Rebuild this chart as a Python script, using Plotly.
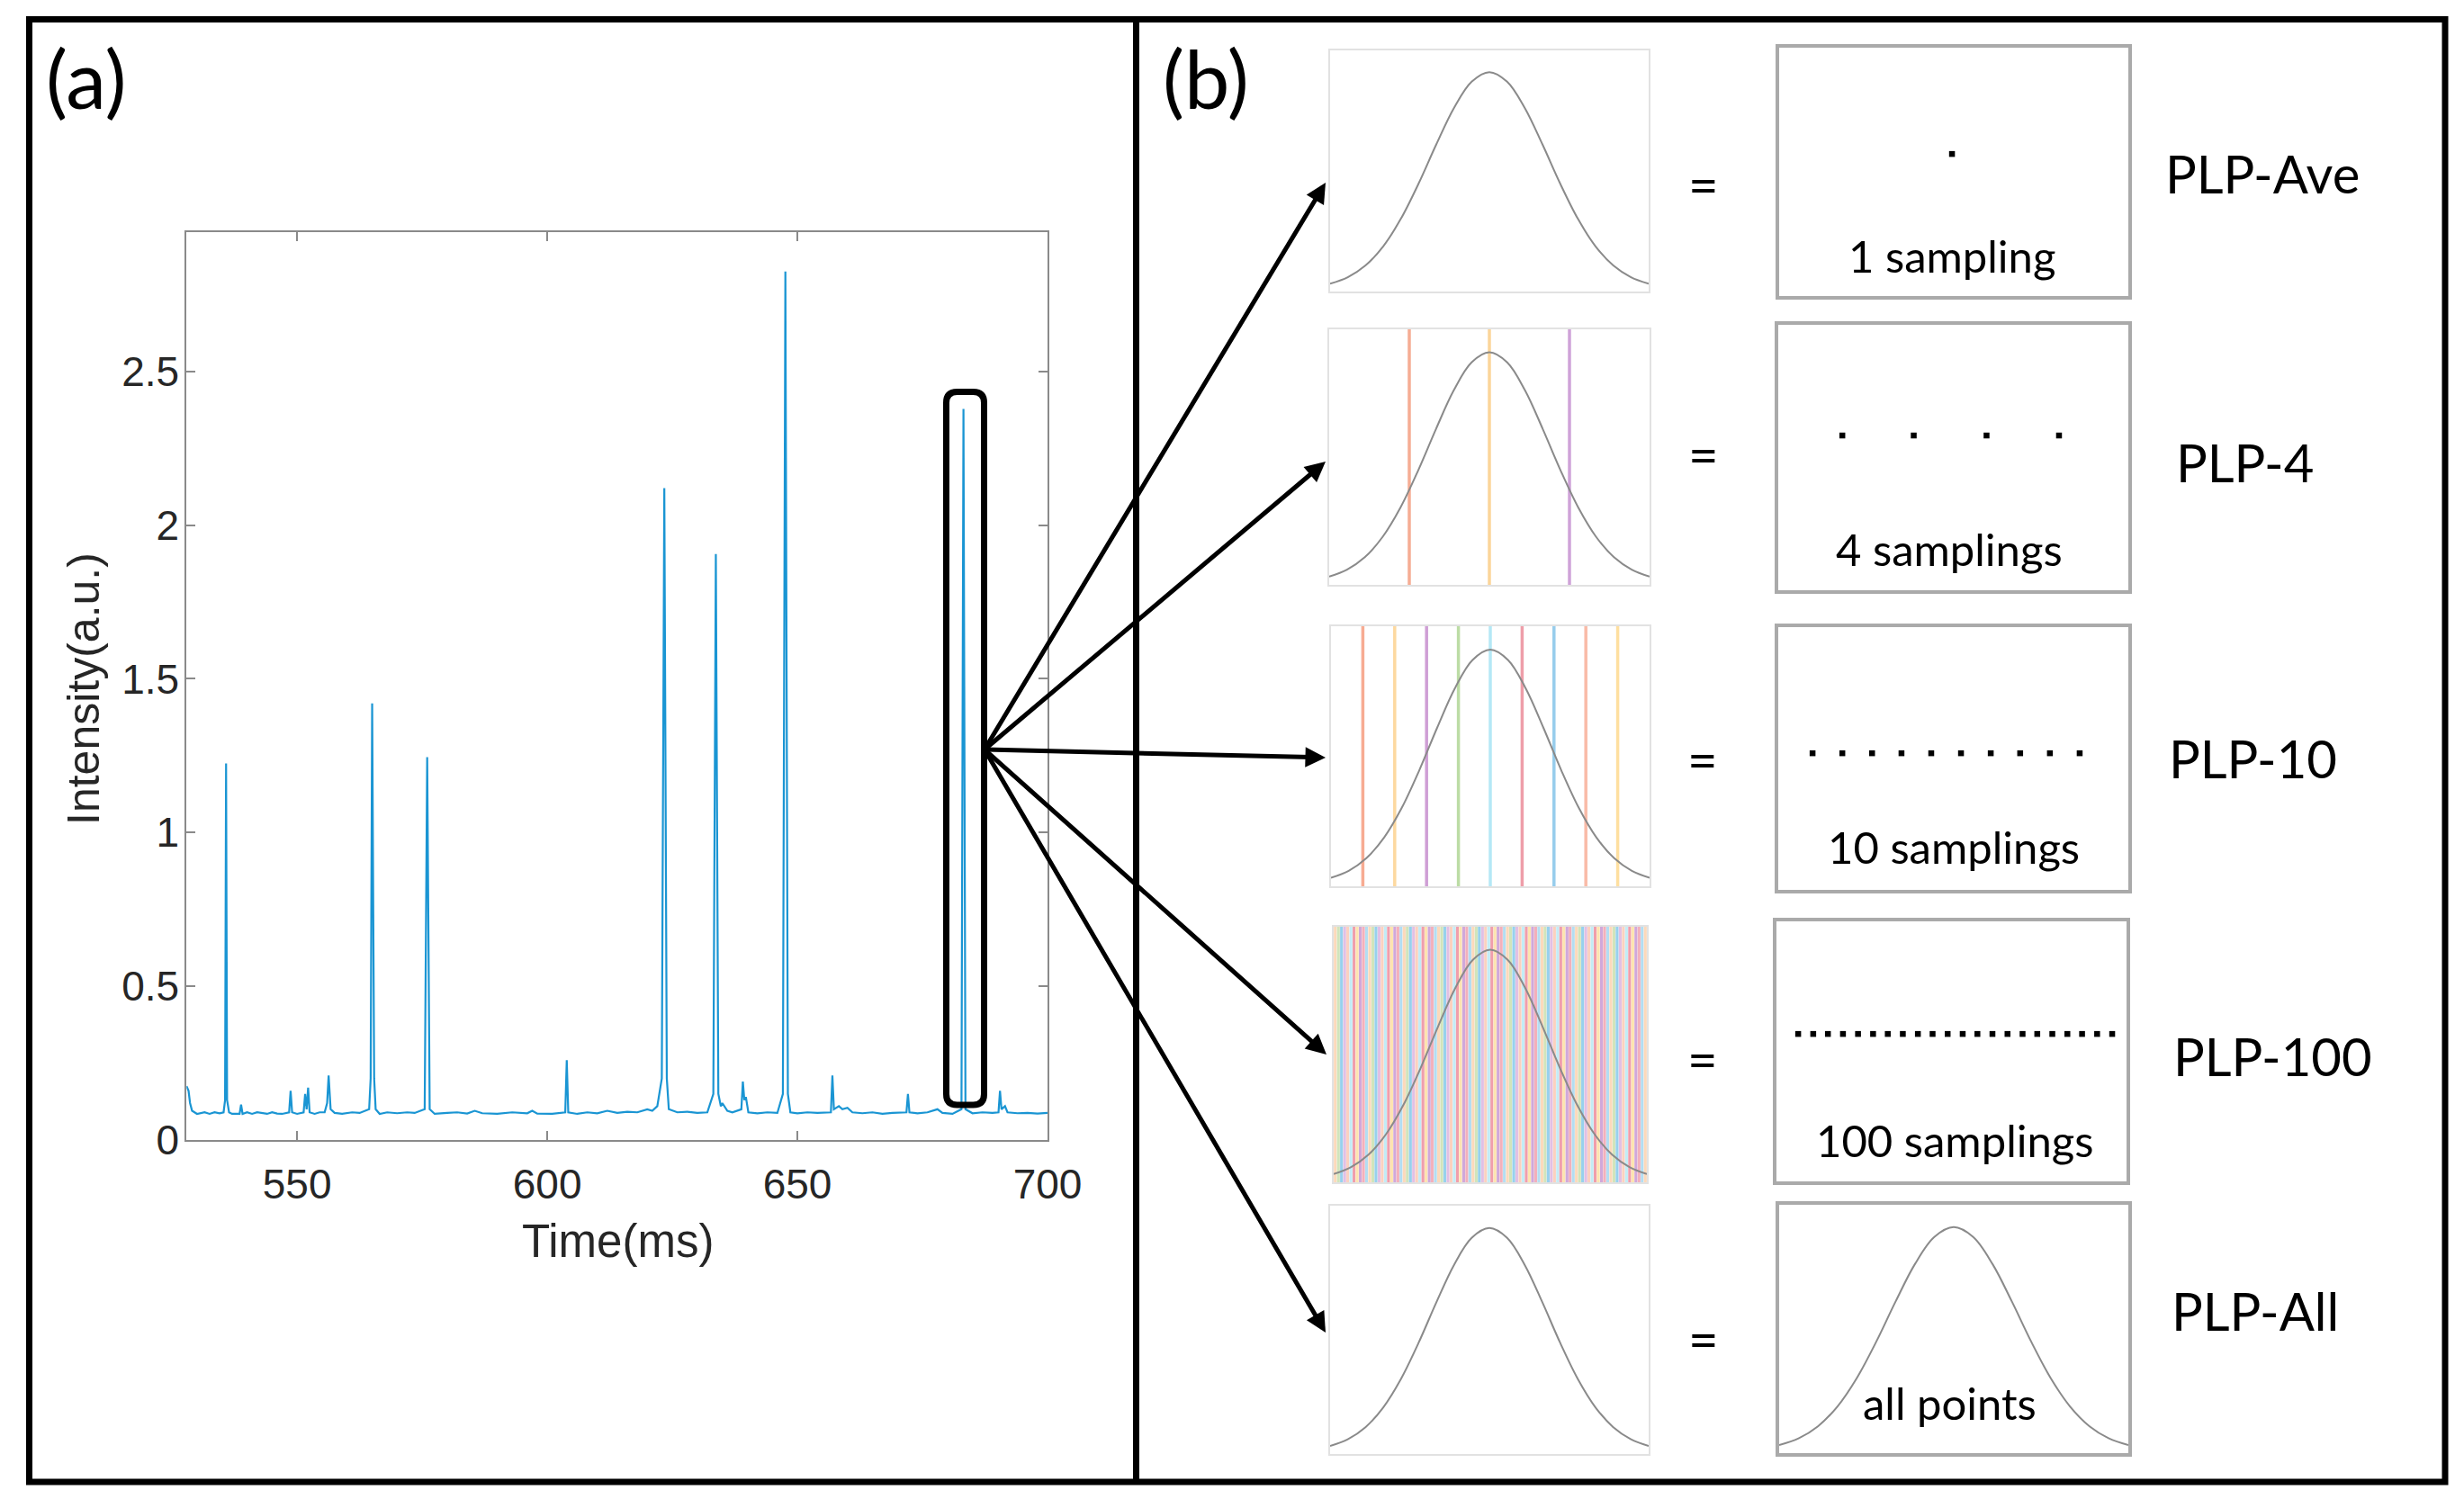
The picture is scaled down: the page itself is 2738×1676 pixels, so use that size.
import plotly.graph_objects as go

W, H = 2738, 1676


def px(x):
    return x / W


def py(y):
    return 1 - y / H


# ---------------- data: panel (a) ----------------
time_ms = [527.9, 528.3, 528.6, 529.0, 530.0, 531.5, 532.5, 533.5, 534.5, 535.3, 535.6, 535.8, 536.0, 536.4,
           537.0, 538.5, 538.8, 539.1, 540.0, 541.0, 542.0, 543.0, 544.0, 545.0, 546.0, 547.0, 548.4, 548.7,
           549.0, 550.0, 551.3, 551.6, 551.9, 552.2, 552.5, 553.5, 554.5, 555.5, 556.0, 556.3, 556.7, 557.5,
           559.0, 561.0, 562.5, 564.4, 564.7, 565.0, 565.4, 565.7, 566.5, 568.0, 570.0, 572.0, 573.5, 575.5,
           576.0, 576.5, 577.5, 580.0, 582.0, 584.0, 585.5, 587.0, 590.0, 593.0, 596.0, 597.0, 598.0, 601.0,
           603.6, 603.9, 604.2, 606.0, 608.0, 610.0, 612.0, 614.0, 616.0, 618.0, 620.0, 621.0, 622.0, 622.9,
           623.4, 623.9, 624.3, 626.0, 628.0, 630.0, 632.0, 633.2, 633.7, 634.2, 634.7, 635.0, 636.0, 637.0,
           638.8, 639.1, 639.4, 639.7, 640.2, 642.0, 644.0, 646.0, 647.1, 647.6, 648.1, 648.6, 650.0, 652.0,
           654.0, 656.7, 657.0, 657.3, 658.3, 659.0, 660.0, 661.0, 663.0, 665.0, 667.0, 669.0, 671.8, 672.1,
           672.4, 674.0, 676.0, 678.0, 679.0, 681.0, 682.8, 683.2, 683.6, 685.0, 687.0, 689.0, 690.2, 690.5,
           690.8, 691.5, 692.0, 694.0, 696.0, 698.0, 700.0]
intensity = [0.175, 0.16, 0.12, 0.095, 0.085, 0.09, 0.085, 0.09, 0.087, 0.09, 0.13, 1.225, 0.13, 0.09,
             0.085, 0.085, 0.115, 0.085, 0.09, 0.085, 0.09, 0.087, 0.085, 0.09, 0.086, 0.085, 0.09, 0.16,
             0.09, 0.085, 0.09, 0.15, 0.10, 0.17, 0.09, 0.085, 0.09, 0.09, 0.12, 0.21, 0.10, 0.088,
             0.085, 0.09, 0.088, 0.10, 0.20, 1.42, 0.20, 0.10, 0.085, 0.09, 0.087, 0.09, 0.088, 0.10,
             1.245, 0.10, 0.085, 0.088, 0.09, 0.086, 0.095, 0.087, 0.085, 0.09, 0.087, 0.095, 0.086, 0.085,
             0.09, 0.26, 0.09, 0.085, 0.09, 0.087, 0.095, 0.088, 0.092, 0.09, 0.10, 0.095, 0.11, 0.20,
             2.12, 0.20, 0.10, 0.09, 0.092, 0.088, 0.09, 0.15, 1.906, 0.15, 0.11, 0.12, 0.095, 0.09,
             0.10, 0.19, 0.13, 0.14, 0.09, 0.087, 0.09, 0.088, 0.15, 2.825, 0.15, 0.09, 0.087, 0.09,
             0.088, 0.09, 0.21, 0.10, 0.11, 0.10, 0.105, 0.09, 0.087, 0.09, 0.085, 0.088, 0.09, 0.15,
             0.09, 0.087, 0.09, 0.10, 0.088, 0.085, 0.10, 2.378, 0.10, 0.087, 0.09, 0.088, 0.09, 0.16,
             0.10, 0.11, 0.09, 0.087, 0.088, 0.086, 0.088]
x_ticks = [550, 600, 650, 700]
x_tick_text = ["550", "600", "650", "700"]
y_ticks = [0, 0.5, 1, 1.5, 2, 2.5]
y_tick_text = ["0", "0.5", "1", "1.5", "2", "2.5"]

# ---------------- data: panel (b) ----------------
gauss_x = [-2.7, -2.4, -2.1, -1.8, -1.5, -1.2, -0.9, -0.6, -0.3, 0.0,
           0.3, 0.6, 0.9, 1.2, 1.5, 1.8, 2.1, 2.4, 2.7]
gauss_y = [0.026, 0.056, 0.110, 0.198, 0.325, 0.487, 0.667, 0.835, 0.956, 1.0,
           0.956, 0.835, 0.667, 0.487, 0.325, 0.198, 0.110, 0.056, 0.026]

methods = ["PLP-Ave", "PLP-4", "PLP-10", "PLP-100", "PLP-All"]
sample_texts = ["1 sampling", "4 samplings", "10 samplings", "100 samplings", "all points"]
sampling_counts = [1, 4, 10, 100]

row2_lines_x = [-1.35, 0.0, 1.35]
row2_colors = ["#f6ad94", "#fbd59a", "#cfa3d8"]
row3_lines_x = [-2.16, -1.62, -1.08, -0.54, 0.0, 0.54, 1.08, 1.62, 2.16]
row3_colors = ["#f7ab92", "#fdd9a0", "#cf9fd5", "#bcdca5", "#b5e8f6", "#ee9ea9", "#97cdec", "#f9bba8", "#fedfa0"]
row4_palette = ["#fcd3b0", "#c9e0b0", "#86c9ea", "#dcb6e0", "#fbc9b5", "#b9e9f5", "#ee8e9e",
                "#fde0a2", "#c89ad4", "#f2a3b0", "#a6d8f0"]

dots_x = [
    [0.495],
    [0.183, 0.387, 0.595, 0.802],
    [0.098, 0.183, 0.268, 0.352, 0.437, 0.522, 0.607, 0.691, 0.776, 0.861],
    [0.062, 0.105, 0.147, 0.190, 0.233, 0.276, 0.318, 0.361, 0.404, 0.446, 0.489,
     0.532, 0.574, 0.617, 0.660, 0.703, 0.745, 0.788, 0.831, 0.873, 0.916, 0.959],
]
dots_y = [0.572, 0.583, 0.52, 0.567]

# ---------------- layout geometry (pixels) ----------------
A_X = (207.3, 1164.0)
A_Y = (258.0, 1267.0)
L_BOX = [(1478, 1832, 56, 324), (1477, 1833, 366, 650), (1479, 1833, 696, 985),
         (1482, 1830, 1030, 1314), (1478, 1832, 1340, 1616)]
R_BOX = [(1977, 2365, 53, 329), (1976, 2365, 361, 656), (1976, 2365, 697, 989),
         (1974, 2363, 1024, 1313), (1977, 2365, 1339, 1615)]

AX_FONT = "Liberation Sans, Arial, sans-serif"
B_FONT = "Lato, Open Sans, sans-serif"

fig = go.Figure()

# panel (a) signal
fig.add_trace(go.Scatter(x=time_ms, y=intensity, mode="lines",
                         line=dict(color="#1a95d3", width=2.2), xaxis="x", yaxis="y",
                         showlegend=False, hoverinfo="skip"))

layout = dict(
    template="none",
    autosize=False,
    width=W, height=H, margin=dict(l=0, r=0, t=0, b=0, pad=0, autoexpand=False),
    paper_bgcolor="white", plot_bgcolor="white", showlegend=False,
    xaxis=dict(domain=[px(A_X[0]), px(A_X[1])], range=[527.9, 700], tickvals=x_ticks,
               ticktext=x_tick_text, ticks="inside", ticklen=10, tickwidth=2, tickcolor="#8a8a8a",
               showline=True, linecolor="#8a8a8a", linewidth=2, mirror="ticks", showgrid=False,
               zeroline=False, tickfont=dict(family=AX_FONT, size=46, color="#262626"),
               ticklabelstandoff=8, anchor="y", automargin=False),
    yaxis=dict(domain=[py(A_Y[1]), py(A_Y[0])], range=[0, 2.953], tickvals=y_ticks,
               ticktext=y_tick_text, ticks="inside", ticklen=10, tickwidth=2, tickcolor="#8a8a8a",
               showline=True, linecolor="#8a8a8a", linewidth=2, mirror="ticks", showgrid=False,
               zeroline=False, tickfont=dict(family=AX_FONT, size=46, color="#262626"),
               ticklabelstandoff=-3, anchor="x", automargin=False),
)

ax_i = 2


def add_axes(box, xr, yr, linecolor, linewidth):
    global ax_i
    k = ax_i
    ax_i += 1
    x0, x1, y0, y1 = box
    common = dict(showgrid=False, zeroline=False, showticklabels=False, ticks="",
                  showline=True, linecolor=linecolor, linewidth=linewidth, mirror=True,
                  automargin=False)
    layout["xaxis%d" % k] = dict(domain=[px(x0), px(x1)], range=xr, anchor="y%d" % k, **common)
    layout["yaxis%d" % k] = dict(domain=[py(y1), py(y0)], range=yr, anchor="x%d" % k, **common)
    return "x%d" % k, "y%d" % k


G_XR = [-2.7, 2.7]
G_YR = [-0.01, 1.1]

left_axes = [add_axes(b, G_XR, G_YR, "#e2e2e2", 2) for b in L_BOX]
right_axes = []
for i, b in enumerate(R_BOX):
    if i < 4:
        right_axes.append(add_axes(b, [0, 1], [0, 1], "#aaaaaa", 3.5))
    else:
        right_axes.append(add_axes(b, G_XR, G_YR, "#aaaaaa", 3.5))

# sampling lines: row 2 and row 3
for xv, c in zip(row2_lines_x, row2_colors):
    xa, ya = left_axes[1]
    fig.add_trace(go.Scatter(x=[xv, xv], y=[-0.1, 1.2], mode="lines", line=dict(color=c, width=3.5),
                             xaxis=xa, yaxis=ya, hoverinfo="skip"))
for xv, c in zip(row3_lines_x, row3_colors):
    xa, ya = left_axes[2]
    fig.add_trace(go.Scatter(x=[xv, xv], y=[-0.1, 1.2], mode="lines", line=dict(color=c, width=3.5),
                             xaxis=xa, yaxis=ya, hoverinfo="skip"))

# row 4: 100 stripes
n4 = sampling_counts[3]
step4 = (G_XR[1] - G_XR[0]) / n4
row4_x = [G_XR[0] + (i + 0.5) * step4 for i in range(n4)]
row4_c = [row4_palette[i % len(row4_palette)] for i in range(n4)]
xa, ya = left_axes[3]
fig.add_trace(go.Bar(x=row4_x, y=[G_YR[1] - G_YR[0]] * n4, base=[G_YR[0]] * n4, width=step4 * 0.92,
                     marker=dict(color=row4_c, line=dict(width=0)), opacity=0.85,
                     xaxis=xa, yaxis=ya, hoverinfo="skip"))

# gaussians
for xa, ya in left_axes + [right_axes[4]]:
    fig.add_trace(go.Scatter(x=gauss_x, y=gauss_y, mode="lines", line=dict(color="#8a8a8a", width=2, shape="spline"),
                             xaxis=xa, yaxis=ya, hoverinfo="skip"))

# dots
for i in range(4):
    xa, ya = right_axes[i]
    fig.add_trace(go.Scatter(x=dots_x[i], y=[dots_y[i]] * len(dots_x[i]), mode="markers",
                             marker=dict(color="black", size=6.5, symbol="square"),
                             xaxis=xa, yaxis=ya, hoverinfo="skip"))

fig.update_layout(**layout)

# ---------------- shapes ----------------
shapes = []
# outer frame and divider
shapes.append(dict(type="rect", xref="paper", yref="paper", x0=px(32.5), x1=px(2717), y0=py(21.5), y1=py(1647),
                   line=dict(color="black", width=7)))
shapes.append(dict(type="line", xref="paper", yref="paper", x0=px(1262.5), x1=px(1262.5), y0=py(21.5), y1=py(1647),
                   line=dict(color="black", width=7)))

# rounded rectangle around the selected peak
rx0, rx1, ry0, ry1, r = 1051.5, 1093.5, 435.5, 1228.0, 12
path = ("M {a},{b} L {c},{b} Q {d},{b} {d},{e} L {d},{f} Q {d},{g} {c},{g} L {a},{g} "
        "Q {h},{g} {h},{f} L {h},{e} Q {h},{b} {a},{b} Z").format(
    a=px(rx0 + r), b=py(ry0), c=px(rx1 - r), d=px(rx1), e=py(ry0 + r), f=py(ry1 - r),
    g=py(ry1), h=px(rx0))
shapes.append(dict(type="path", xref="paper", yref="paper", path=path, line=dict(color="black", width=7)))
fig.update_layout(shapes=shapes)

# ---------------- annotations ----------------
ann = []
# arrows (tail offset given in pixels relative to the head)
tail = (1094, 833)
heads = [(1473, 203), (1473, 513), (1473, 842), (1474, 1172), (1473, 1481)]
for hx, hy in heads:
    ann.append(dict(xref="paper", yref="paper", axref="pixel", ayref="pixel",
                    x=px(hx), y=py(hy), ax=tail[0] - hx, ay=tail[1] - hy, text="",
                    showarrow=True, arrowhead=2, arrowsize=0.9, arrowwidth=5, arrowcolor="black"))


def txt(x, y, s, size, font=B_FONT, color="black", angle=0):
    ann.append(dict(xref="paper", yref="paper", x=px(x), y=py(y), text=s, showarrow=False,
                    xanchor="center", yanchor="middle", textangle=angle,
                    font=dict(family=font, size=size, color=color)))


txt(96, 86, "(a)", 90)
txt(1340, 86, "(b)", 90)
txt(686, 1379, "Time(ms)", 51, AX_FONT, "#262626")
txt(93, 766, "Intensity(a.u.)", 50, AX_FONT, "#262626", -90)

eq_pos = [(1893, 205), (1893, 504), (1892, 843), (1892, 1176), (1893, 1487)]
for (x, y) in eq_pos:
    txt(x, y, "=", 58)

plp_pos = [(2514, 192), (2494, 513), (2503, 842), (2525, 1173), (2506, 1456)]
for (x, y), s in zip(plp_pos, methods):
    txt(x, y, s, 58)

st_pos = [(2169, 284), (2166, 610), (2171, 941), (2172, 1267), (2166, 1559)]
for (x, y), s in zip(st_pos, sample_texts):
    txt(x, y, s, 49)

fig.update_layout(annotations=ann)

fig.write_html("out.html", config={"responsive": False, "displayModeBar": False},
               post_script="document.body.style.margin='0';document.body.style.overflow='hidden';")
